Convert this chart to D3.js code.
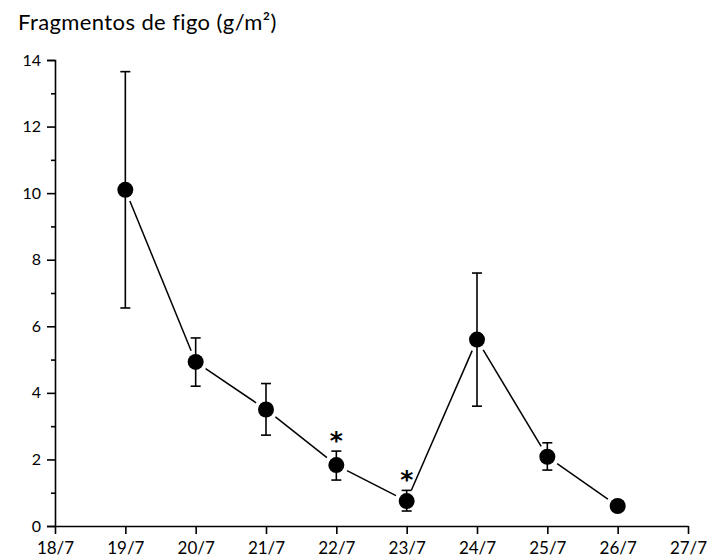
<!DOCTYPE html>
<html>
<head>
<meta charset="utf-8">
<script src="https://cdn.jsdelivr.net/npm/d3@7"></script>
<style>
  body { margin: 0; background: #fff; }
  text { font-family: "Lato", "Open Sans", sans-serif; fill: #000; }
</style>
</head>
<body>
<script>
// data
var dayTicks = ["18/7", "19/7", "20/7", "21/7", "22/7", "23/7", "24/7", "25/7", "26/7", "27/7"];
var days = ["19/7", "20/7", "21/7", "22/7", "23/7", "24/7", "25/7", "26/7"];
var means = [10.1, 4.93, 3.5, 1.83, 0.75, 5.6, 2.08, 0.6];
var upper = [13.65, 5.65, 4.28, 2.25, 1.07, 7.6, 2.5, null];
var lower = [6.55, 4.2, 2.73, 1.38, 0.45, 3.6, 1.68, null];
var signif = [false, false, false, true, true, false, false, false];
var yTicks = [0, 2, 4, 6, 8, 10, 12, 14];

var width = 719, height = 560;
var r = 8;

var svg = d3.select("body").append("svg")
    .attr("width", width)
    .attr("height", height);

var x = d3.scalePoint().domain(dayTicks).range([55, 688]);
var y = d3.scaleLinear().domain([0, 14]).range([526, 60]);

// title
svg.append("text")
    .attr("x", 18)
    .attr("y", 30)
    .style("font-size", "22px")
    .style("letter-spacing", "0.4px")
    .text("Fragmentos de figo (g/m²)");

// y axis
var yAxis = svg.append("g")
    .attr("transform", "translate(" + x("18/7") + ",0)")
    .call(d3.axisLeft(y).tickValues(yTicks).tickSize(8).tickPadding(6));
yAxis.selectAll(".tick text").style("font-size", "16px");
svg.append("g")
    .attr("transform", "translate(" + x("18/7") + ",0)")
    .call(d3.axisLeft(y).tickValues(d3.range(1, 14, 2)).tickSize(4).tickFormat(""))
    .select(".domain").remove();

// x axis
var xAxis = svg.append("g")
    .attr("transform", "translate(0," + y(0) + ")")
    .call(d3.axisBottom(x).tickSize(8).tickPadding(8).tickSizeOuter(0));
xAxis.selectAll(".tick text").style("font-size", "17px");

svg.selectAll(".domain, .tick line").attr("stroke", "#000").attr("stroke-width", 1.6);

var pts = days.map(function(d, i) {
    return { day: d, v: means[i], hi: upper[i], lo: lower[i], star: signif[i] };
});

// connecting lines, trimmed so they stop short of the markers
var gap = r + 4;
var segs = d3.pairs(pts);
svg.selectAll(".seg")
    .data(segs)
    .enter()
    .append("line")
    .attr("class", "seg")
    .each(function(p) {
        var x1 = x(p[0].day), y1 = y(p[0].v), x2 = x(p[1].day), y2 = y(p[1].v);
        var len = Math.hypot(x2 - x1, y2 - y1);
        var ux = (x2 - x1) / len, uy = (y2 - y1) / len;
        d3.select(this)
            .attr("x1", x1 + ux * gap).attr("y1", y1 + uy * gap)
            .attr("x2", x2 - ux * gap).attr("y2", y2 - uy * gap);
    })
    .attr("stroke", "#000")
    .attr("stroke-width", 1.5);

// error bars
var eb = svg.selectAll(".err")
    .data(pts.filter(function(d) { return d.hi != null; }))
    .enter()
    .append("g")
    .attr("class", "err");
eb.append("line")
    .attr("x1", function(d) { return x(d.day); })
    .attr("x2", function(d) { return x(d.day); })
    .attr("y1", function(d) { return y(d.hi); })
    .attr("y2", function(d) { return y(d.lo); })
    .attr("stroke", "#000").attr("stroke-width", 1.6);
eb.append("line")
    .attr("x1", function(d) { return x(d.day) - 5; })
    .attr("x2", function(d) { return x(d.day) + 5; })
    .attr("y1", function(d) { return y(d.hi); })
    .attr("y2", function(d) { return y(d.hi); })
    .attr("stroke", "#000").attr("stroke-width", 1.6);
eb.append("line")
    .attr("x1", function(d) { return x(d.day) - 5; })
    .attr("x2", function(d) { return x(d.day) + 5; })
    .attr("y1", function(d) { return y(d.lo); })
    .attr("y2", function(d) { return y(d.lo); })
    .attr("stroke", "#000").attr("stroke-width", 1.6);

// markers
svg.selectAll(".dot")
    .data(pts)
    .enter()
    .append("circle")
    .attr("class", "dot")
    .attr("cx", function(d) { return x(d.day); })
    .attr("cy", function(d) { return y(d.v); })
    .attr("r", r)
    .attr("fill", "#000");

// significance asterisks
svg.selectAll(".star")
    .data(pts.filter(function(d) { return d.star; }))
    .enter()
    .append("text")
    .attr("class", "star")
    .attr("x", function(d) { return x(d.day); })
    .attr("y", function(d) { return y(d.hi) - 2; })
    .attr("text-anchor", "middle")
    .style("font-family", "'DejaVu Sans', sans-serif")
    .style("font-weight", "bold")
    .style("font-size", "25px")
    .text("*");
</script>
</body>
</html>
